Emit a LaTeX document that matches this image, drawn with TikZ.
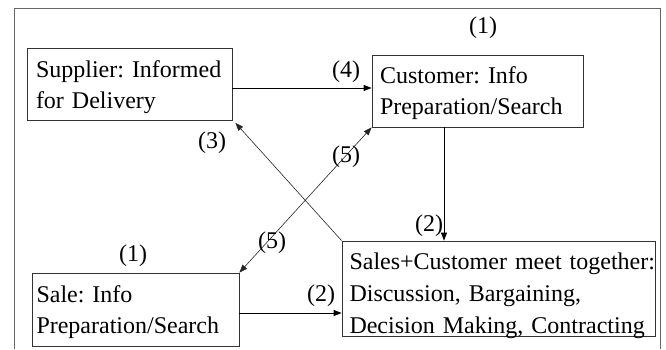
\documentclass[tikz,border=0pt]{standalone}
\usepackage{fontspec}
\setmainfont{Liberation Serif}
\usetikzlibrary{arrows.meta}

% invisible strut that sets the height of a box's first line
\newcommand\boxlead[1]{\rule{0pt}{#1pt}}

\begin{document}
\frenchspacing
\begin{tikzpicture}[x=1pt,y=-1pt,
  every node/.style={font=\fontsize{24}{31}\selectfont},
  box/.style={draw=black!80, line width=0.8pt, rectangle, align=left,
              inner ysep=0pt},
  numlabel/.style={inner sep=0pt},
  arr/.style={line width=0.8pt, -{Triangle[length=8pt,width=6pt]}},
  thinarr/.style={line width=0.6pt, draw=black!85, -{Triangle[length=8pt,width=6pt]}},
  twoway/.style={line width=0.6pt, draw=black!85, {Triangle[length=8pt,width=6pt]}-{Triangle[length=8pt,width=6pt]}},
  frameline/.style={draw=black!60, line width=0.9pt}]

  \useasboundingbox (0,0) rectangle (666,349);

  % outer frame (runs off the bottom edge)
  \draw[frameline] (14,349) -- (14,8) -- (660,8) -- (660,349);

  % boxes
  \node[box, inner xsep=9pt, text width=187pt, minimum width=205pt, minimum height=72pt]
    (sup) at (129.5,84)
    {\boxlead{24}\mbox{Supplier: Informed}\\\mbox{for Delivery}};
  \node[box, inner xsep=8pt, text width=195pt, minimum width=211pt, minimum height=72pt]
    (cust) at (477.5,91)
    {\boxlead{20.3}\mbox{Customer: Info}\\\mbox{Preparation/Search}};
  \node[box, inner xsep=4.5pt, text width=198pt, minimum width=207pt, minimum height=73pt]
    (sale) at (135.5,309.5)
    {\boxlead{21.3}\mbox{Sale: Info}\\\mbox{Preparation/Search}};
  \node[box, inner xsep=7.5pt, text width=298pt, minimum width=313pt, minimum height=95pt,
        font=\fontsize{24}{32}\selectfont]
    (meet) at (498.5,288.5)
    {\boxlead{25}\mbox{Sales+Customer meet together:}\\\mbox{Discussion, Bargaining,}\\\smash{\mbox{Decision Making, Contracting}}};

  % connectors
  \draw[arr] ([yshift=-4pt]sup.east) -- ([yshift=-4pt]sup.east -| cust.west);
  \draw[arr] ([xshift=-33.5pt]cust.south) -- ([xshift=-33.5pt]cust.south |- meet.north);
  \draw[arr] ([yshift=-3.5pt]sale.east) -- ([yshift=-3.5pt]sale.east -| meet.west);
  \draw[thinarr] (meet.north west) -- ([xshift=3pt,yshift=-2.5pt]sup.south east);
  \draw[twoway] (sale.north east) -- (cust.south west);

  % step numbers
  \node[numlabel] (n1c) at (483,28) {(1)};
  \node[numlabel] (n1s) at (133,256) {(1)};
  \node[numlabel] (n4) at (346,72) {(4)};
  \node[numlabel] (n3) at (212,143) {(3)};
  \node[numlabel] (n5u) at (346,157) {(5)};
  \node[numlabel] (n5l) at (272,243) {(5)};
  \node[numlabel] (n2v) at (429,226) {(2)};
  \node[numlabel] (n2h) at (321,296) {(2)};
\end{tikzpicture}
\end{document}
